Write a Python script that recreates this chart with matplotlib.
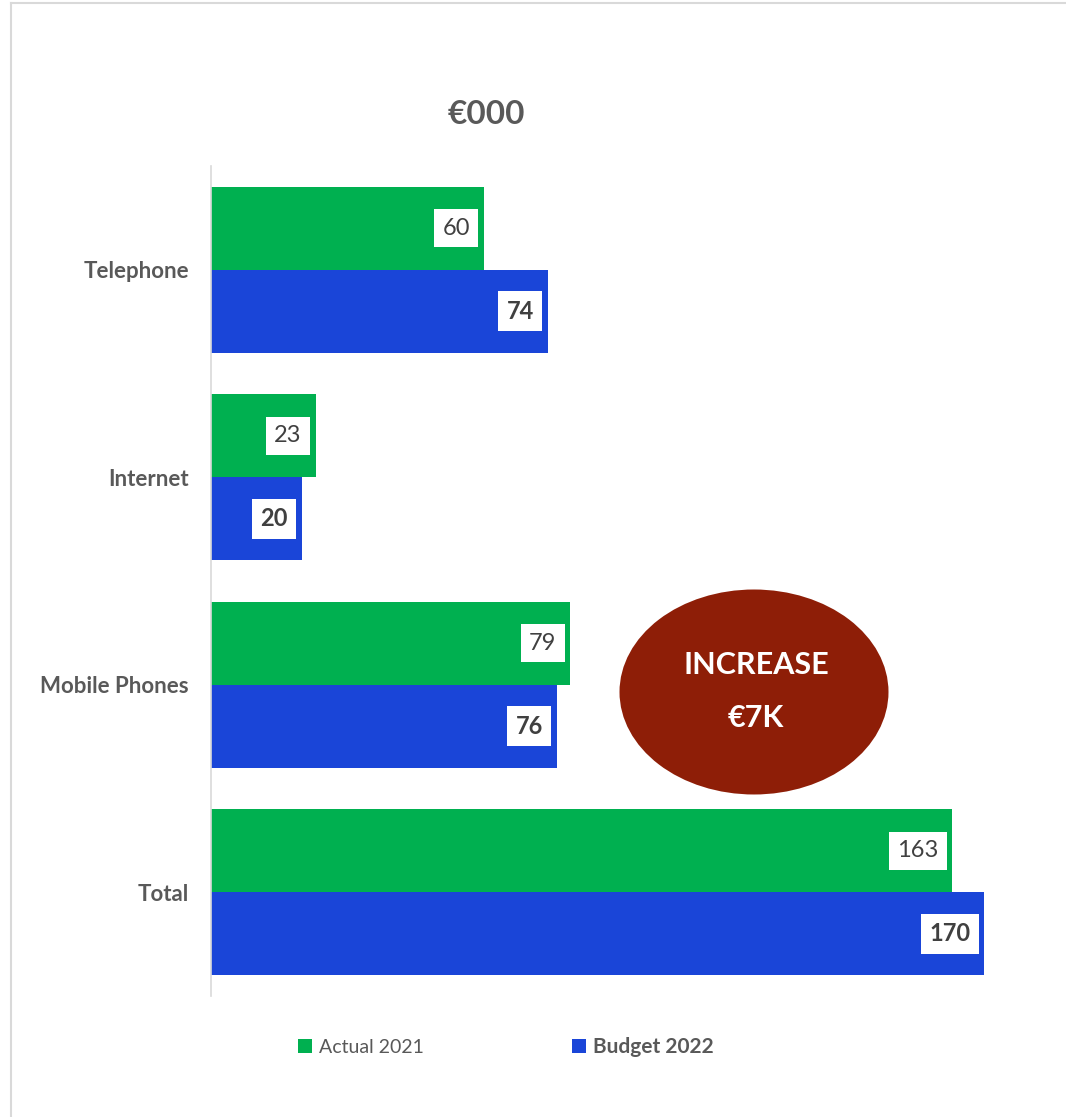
import matplotlib.pyplot as plt
from matplotlib.lines import Line2D
from matplotlib.patches import Ellipse, Patch

plt.rcParams["font.family"] = ["Lato", "DejaVu Sans"]

CATEGORIES = ["Telephone", "Internet", "Mobile Phones", "Total"]
ACTUAL_2021 = [60, 23, 79, 163]
BUDGET_2022 = [74, 20, 76, 170]
SERIES_NAMES = ["Actual 2021", "Budget 2022"]
TITLE = "€000"
CALLOUT = ["INCREASE", "€7K"]

GREEN = "#00B050"
BLUE = "#1A45D8"
RED = "#8E1E07"
GREY = "#595959"
DARK = "#404040"
LINE = "#D9D9D9"

W, H = 1066, 1117


def fx(px):
    return px / W


def fy(py):
    return 1 - py / H


fig = plt.figure(figsize=(W / 100, H / 100), dpi=100)
ax = fig.add_axes([fx(211), fy(996), fx(1066 - 211), (996 - 166) / H])

pos = list(range(len(CATEGORIES)))
bar_h = 0.4
green = ax.barh([p - bar_h / 2 for p in pos], ACTUAL_2021, height=bar_h, color=GREEN, edgecolor="none")
blue = ax.barh([p + bar_h / 2 for p in pos], BUDGET_2022, height=bar_h, color=BLUE, edgecolor="none")

ax.set_xlim(0, 188)
ax.set_ylim(len(CATEGORIES) - 0.5, -0.5)
ax.set_yticks(pos)
ax.set_yticklabels(CATEGORIES, fontsize=16, fontweight="bold", color=GREY)
ax.tick_params(axis="y", length=0, pad=16)
ax.set_xticks([])
for side in ["top", "right", "bottom"]:
    ax.spines[side].set_visible(False)
ax.spines["left"].set_color(LINE)
ax.spines["left"].set_linewidth(1.2)

box = dict(boxstyle="square,pad=0.35", facecolor="white", edgecolor="none")
for rects, vals, weight in [(green, ACTUAL_2021, "normal"), (blue, BUDGET_2022, "bold")]:
    for rect, v in zip(rects, vals):
        ax.annotate(str(v), xy=(rect.get_width(), rect.get_y() + rect.get_height() / 2),
                    xytext=(-10, 0), textcoords="offset points", ha="right", va="center",
                    fontsize=17, fontweight=weight, color=DARK, bbox=box)

fig.text(fx(486), fy(115), TITLE, ha="center", va="center", fontsize=24,
         fontweight="bold", color=GREY)

ell = Ellipse((fx(754), fy(692)), fx(269), 205 / H, transform=fig.transFigure,
              facecolor=RED, edgecolor="none")
fig.patches.append(ell)
fig.text(fx(756), fy(665), CALLOUT[0], ha="center", va="center", fontsize=22,
         fontweight="bold", color="white")
fig.text(fx(756), fy(718), CALLOUT[1], ha="center", va="center", fontsize=22,
         fontweight="bold", color="white")

handles = [Patch(facecolor=GREEN), Patch(facecolor=BLUE)]
leg = fig.legend(handles, SERIES_NAMES, loc="center", bbox_to_anchor=(fx(506), fy(1047)),
                 ncol=2, frameon=False, fontsize=14, handlelength=0.72, handleheight=0.72,
                 handletextpad=0.35, columnspacing=7.6)
for t in leg.get_texts():
    t.set_color(GREY)
leg.get_texts()[1].set_fontweight("bold")
leg.get_texts()[1].set_fontsize(15)

# outer frame of the chart area
fig.add_artist(Line2D([fx(11), 1], [fy(3), fy(3)], color=LINE, lw=1.5, transform=fig.transFigure))
fig.add_artist(Line2D([fx(11), fx(11)], [0, fy(3)], color=LINE, lw=1.5, transform=fig.transFigure))

fig.savefig("out.png", dpi=100)
